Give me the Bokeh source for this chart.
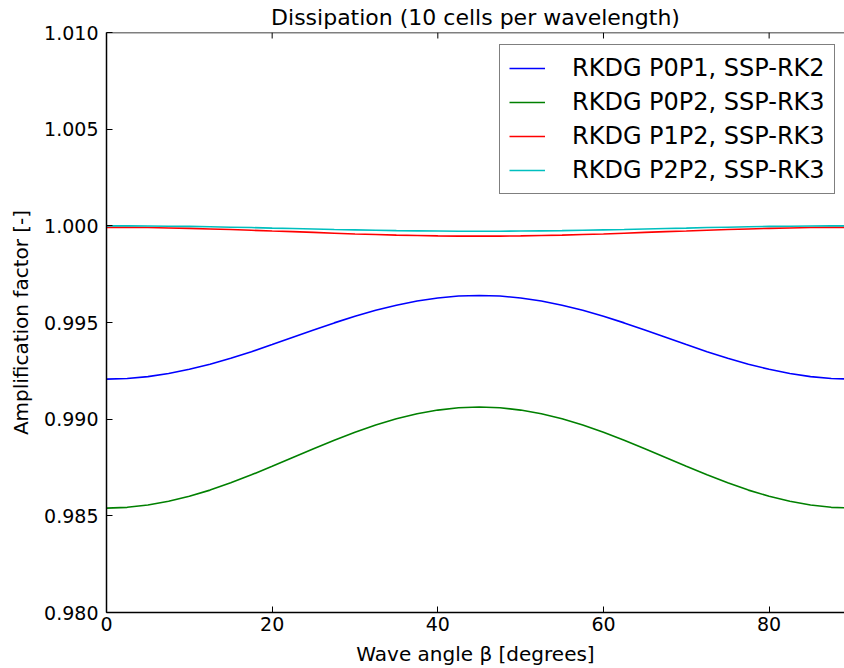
import math
from bokeh.plotting import figure
from bokeh.models import FixedTicker, PrintfTickFormatter, Range1d, Legend, LegendItem, Span
from bokeh.embed import file_html
from bokeh.resources import INLINE

beta = [0, 2.5, 5, 7.5, 10, 12.5, 15, 17.5, 20, 22.5, 25, 27.5, 30, 32.5, 35, 37.5, 40, 42.5, 45,
        47.5, 50, 52.5, 55, 57.5, 60, 62.5, 65, 67.5, 70, 72.5, 75, 77.5, 80, 82.5, 85, 87.5, 90]
p0p1_rk2 = [0.99207, 0.99210, 0.99220, 0.99236, 0.99258, 0.99284, 0.99315, 0.99349, 0.99386, 0.99424,
            0.99461, 0.99498, 0.99532, 0.99563, 0.99589, 0.99611, 0.99627, 0.99637, 0.99640,
            0.99637, 0.99627, 0.99611, 0.99589, 0.99563, 0.99532, 0.99498, 0.99461, 0.99424,
            0.99386, 0.99349, 0.99315, 0.99284, 0.99258, 0.99236, 0.99220, 0.99210, 0.99207]
p0p2_rk3 = [0.98540, 0.98544, 0.98556, 0.98575, 0.98601, 0.98633, 0.98671, 0.98712, 0.98756, 0.98802,
            0.98847, 0.98891, 0.98932, 0.98970, 0.99002, 0.99028, 0.99047, 0.99059, 0.99063,
            0.99059, 0.99047, 0.99028, 0.99002, 0.98970, 0.98932, 0.98891, 0.98847, 0.98802,
            0.98756, 0.98712, 0.98671, 0.98633, 0.98601, 0.98575, 0.98556, 0.98544, 0.98540]
p1p2_rk3 = [0.99992, 0.99992, 0.99991, 0.99989, 0.99987, 0.99984, 0.99981, 0.99977, 0.99973, 0.99970,
            0.99966, 0.99962, 0.99958, 0.99955, 0.99952, 0.99950, 0.99948, 0.99947, 0.99947,
            0.99947, 0.99948, 0.99950, 0.99952, 0.99955, 0.99958, 0.99962, 0.99966, 0.99970,
            0.99973, 0.99977, 0.99981, 0.99984, 0.99987, 0.99989, 0.99991, 0.99992, 0.99992]
p2p2_rk3 = [1.00000, 1.00000, 0.99999, 0.99998, 0.99997, 0.99995, 0.99993, 0.99991, 0.99988, 0.99986,
            0.99984, 0.99981, 0.99979, 0.99977, 0.99975, 0.99974, 0.99973, 0.99972, 0.99972,
            0.99972, 0.99973, 0.99974, 0.99975, 0.99977, 0.99979, 0.99981, 0.99984, 0.99986,
            0.99988, 0.99991, 0.99993, 0.99995, 0.99997, 0.99998, 0.99999, 1.00000, 1.00000]
labels = ["RKDG P0P1, SSP-RK2", "RKDG P0P2, SSP-RK3", "RKDG P1P2, SSP-RK3", "RKDG P2P2, SSP-RK3"]
colors = ["#0000ff", "#008000", "#ff0000", "#00bfbf"]
x_ticks = [0, 20, 40, 60, 80]
y_ticks = [0.980, 0.985, 0.990, 0.995, 1.000, 1.005, 1.010]
x_visible_end = 89.1   # the reference picture is cut just before beta = 90
y_lo, y_hi = 0.980, 1.010

FONT = "'DejaVu Sans'"

p = figure(width=844, height=668, output_backend="svg", toolbar_location=None,
           x_range=Range1d(0, x_visible_end), y_range=Range1d(y_lo, y_hi),
           min_border_left=106, min_border_right=0, min_border_top=0, min_border_bottom=0,
           title="Dissipation (10 cells per wavelength)")
p.title.text_font = FONT
p.title.text_font_size = "22px"
p.title.text_font_style = "normal"
p.title.text_color = "black"
p.title.align = "center"
p.title.offset = 0
p.title.standoff = 5

p.xgrid.visible = False
p.ygrid.visible = False
p.outline_line_color = None
p.background_fill_color = "white"
p.border_fill_color = "white"

for ax in p.xaxis:
    ax.ticker = FixedTicker(ticks=x_ticks)
    ax.axis_label = "Wave angle β [degrees]"
for ax in p.yaxis:
    ax.ticker = FixedTicker(ticks=y_ticks)
    ax.formatter = PrintfTickFormatter(format="%.3f")
    ax.axis_label = "Amplification factor [-]"

for ax in p.xaxis + p.yaxis:
    ax.major_tick_in = 6
    ax.major_tick_out = 0
    ax.minor_tick_line_color = None
    ax.axis_line_color = "black"
    ax.axis_line_width = 1.5
    ax.major_tick_line_color = "black"
    ax.major_label_text_font = FONT
    ax.major_label_text_font_size = "19px"
    ax.major_label_text_color = "black"
    ax.axis_label_text_font = FONT
    ax.axis_label_text_font_size = "20px"
    ax.axis_label_text_font_style = "normal"
    ax.axis_label_text_color = "black"

p.xaxis.major_label_standoff = 4
p.xaxis.axis_label_standoff = 8
p.yaxis.major_label_standoff = 8
p.yaxis.axis_label_standoff = 8

# top spine with inward ticks
p.add_layout(Span(location=y_hi, dimension="width", line_color="black", line_width=1.5))
p.ray(x=x_ticks, y=[y_hi] * len(x_ticks), length=6, length_units="screen",
      angle=-math.pi / 2, line_color="black", line_width=1)

renderers = []
for ys, c in zip([p0p1_rk2, p0p2_rk3, p1p2_rk3, p2p2_rk3], colors):
    r = p.line(beta, ys, line_color=c, line_width=1.6)
    renderers.append(r)

legend = Legend(items=[LegendItem(label=l, renderers=[r]) for l, r in zip(labels, renderers)],
                location=(393, 418))
legend.label_text_font = FONT
legend.label_text_font_size = "24px"
legend.label_text_color = "black"
legend.border_line_color = "black"
legend.border_line_width = 1.2
legend.glyph_width = 36
legend.glyph_height = 24
legend.label_standoff = 27
legend.label_height = 24
legend.spacing = 6
legend.padding = 9
legend.margin = 0
legend.background_fill_alpha = 1
p.add_layout(legend)

open("out.html", "w").write(file_html(p, INLINE))
